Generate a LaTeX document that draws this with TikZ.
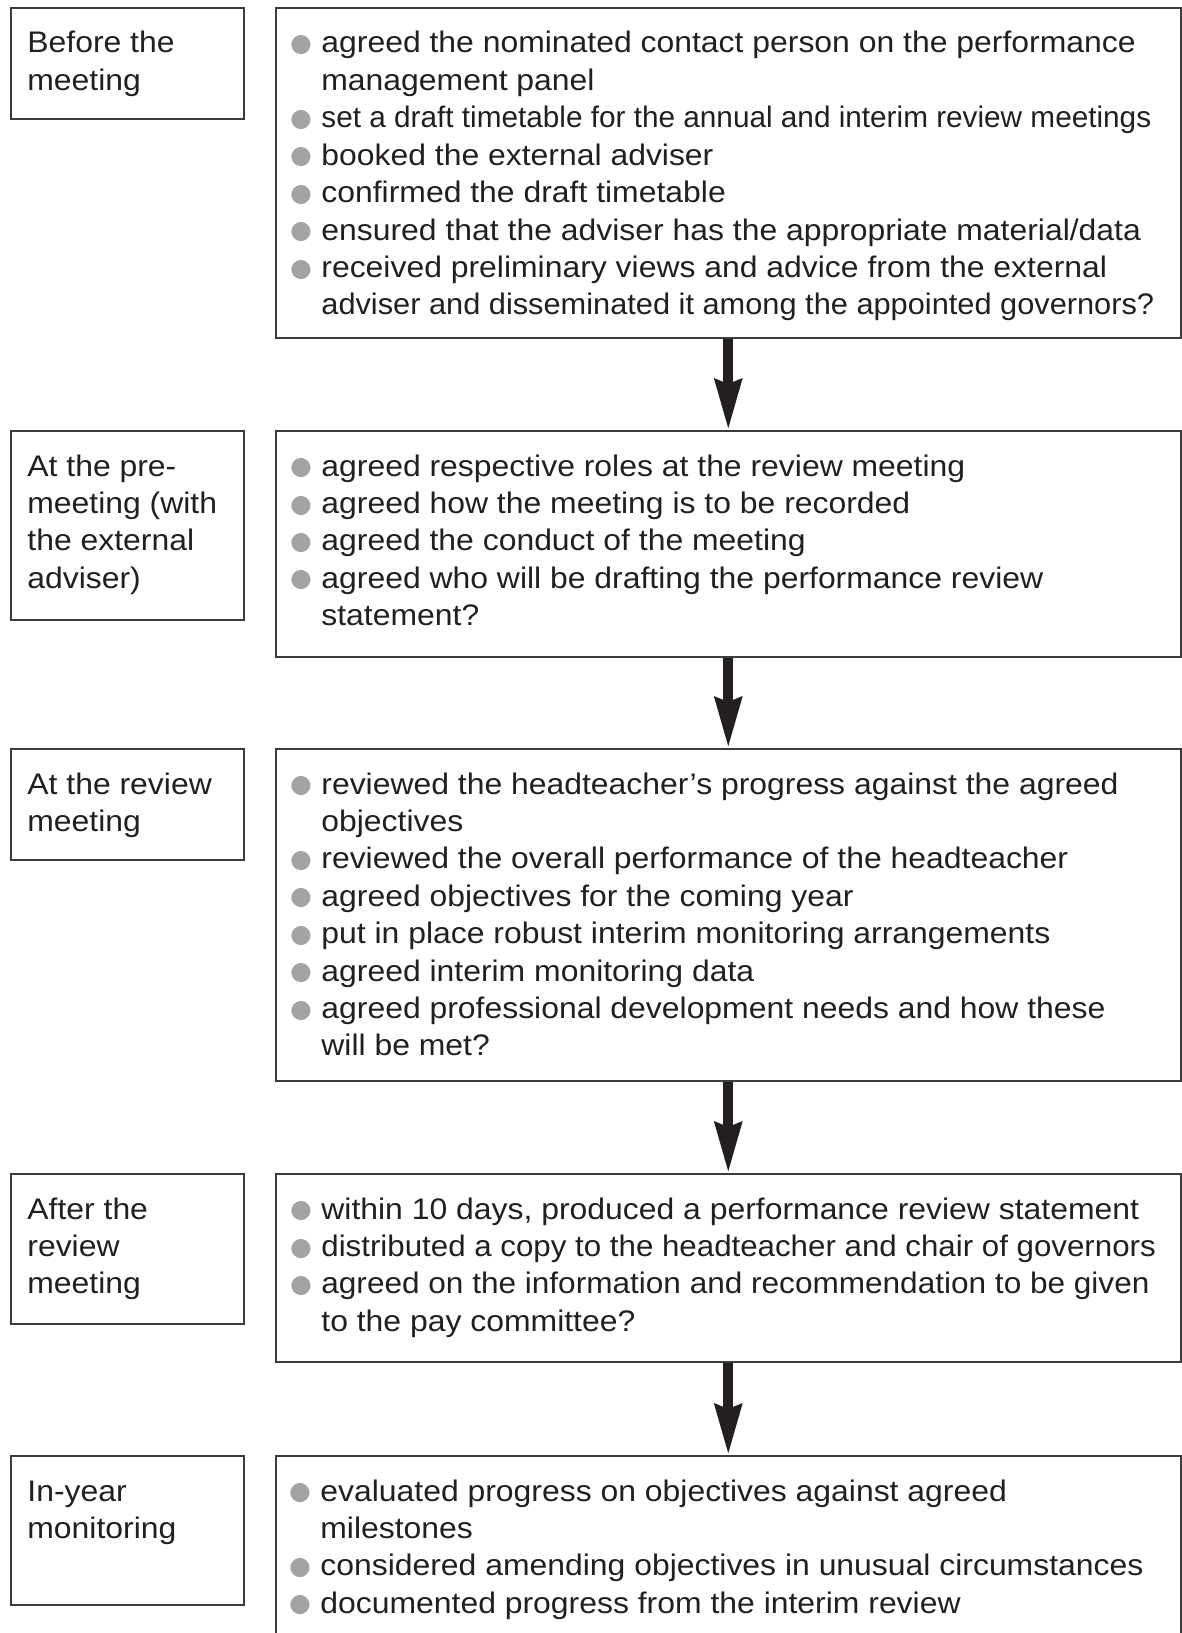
\documentclass[tikz,border=0pt]{standalone}
\usepackage{fontspec}
\usepackage{graphicx}
\setmainfont[FakeStretch=1.073]{Liberation Sans}
\newfontfamily\symf{DejaVu Sans}
\usetikzlibrary{arrows.meta}
\definecolor{bulgray}{HTML}{A3A3A6}
\definecolor{txtc}{HTML}{231F20}
\definecolor{edge}{HTML}{3C3C3C}
\newcommand\bul{\makebox[14.5pt][l]{\hspace{-1.2pt}\raisebox{\dimexpr3.86pt-0.5\height+0.5\depth\relax}{\textcolor{bulgray}{\fontsize{12.5}{12.5}\symf ●}}}}
\newcommand\sq[2]{\scalebox{#1}[1]{#2}}
\newcommand\lst[1]{\begin{tabular}[t]{@{}l@{}l@{}}#1\end{tabular}}
\newcommand\lbl[1]{\begin{tabular}[t]{@{}l@{}}#1\end{tabular}}
\begin{document}
\begin{tikzpicture}[x=0.5pt,y=-0.5pt,
  lbox/.style={draw=edge, line width=0.75pt, anchor=north west, inner sep=0, minimum width=116.5pt},
  rbox/.style={draw=edge, line width=0.75pt, anchor=north west, inner sep=0, minimum width=452.5pt},
  txt/.style={anchor=base west, inner sep=0, text=txtc, font=\fontsize{14.87}{18.7}\selectfont},
  flow/.style={line width=5pt, draw=txtc, -{Stealth[length=25pt,width=13pt,inset=2pt]}}]
\useasboundingbox (0,0) rectangle (1182,1633);
% boxes
\node[lbox, minimum height=55.5pt] (l1) at (10,7) {};
\node[rbox, minimum height=165pt] (r1) at (275,7) {};
\node[lbox, minimum height=94.5pt] (l2) at (10,430) {};
\node[rbox, minimum height=113pt] (r2) at (275,430) {};
\node[lbox, minimum height=55.5pt] (l3) at (10,748) {};
\node[rbox, minimum height=166pt] (r3) at (275,748) {};
\node[lbox, minimum height=75pt] (l4) at (10,1173) {};
\node[rbox, minimum height=94pt] (r4) at (275,1173) {};
\node[lbox, minimum height=74.5pt] (l5) at (10,1455) {};
\node[rbox, minimum height=100pt] (r5) at (275,1455) {};
% left labels
\node[txt] (t1) at (27,53) {\lbl{Before the\\meeting}};
\node[txt] (t2) at (27,476) {\lbl{At the pre-\\meeting (with\\the external\\adviser)}};
\node[txt] (t3) at (27,794) {\lbl{At the review\\meeting}};
\node[txt] (t4) at (27,1219) {\lbl{After the\\review\\meeting}};
\node[txt] (t5) at (27,1501) {\lbl{In-year\\monitoring}};
% right lists
\node[txt] (s1) at (292,53) {\lst{%
\bul & agreed the nominated contact person on the performance\\
 & management panel\\
\bul & \sq{0.932}{set a draft timetable for the annual and interim review meetings}\\
\bul & booked the external adviser\\
\bul & confirmed the draft timetable\\
\bul & ensured that the adviser has the appropriate material/data\\
\bul & received preliminary views and advice from the external\\
 & \sq{0.964}{adviser and disseminated it among the appointed governors?}}};
\node[txt] (s2) at (292,476) {\lst{%
\bul & agreed respective roles at the review meeting\\
\bul & agreed how the meeting is to be recorded\\
\bul & agreed the conduct of the meeting\\
\bul & agreed who will be drafting the performance review\\
 & statement?}};
\node[txt] (s3) at (292,794) {\lst{%
\bul & reviewed the headteacher’s progress against the agreed\\
 & objectives\\
\bul & reviewed the overall performance of the headteacher\\
\bul & agreed objectives for the coming year\\
\bul & put in place robust interim monitoring arrangements\\
\bul & agreed interim monitoring data\\
\bul & agreed professional development needs and how these\\
 & will be met?}};
\node[txt] (s4) at (292,1219) {\lst{%
\bul & within 10 days, produced a performance review statement\\
\bul & \sq{0.98}{distributed a copy to the headteacher and chair of governors}\\
\bul & \sq{0.989}{agreed on the information and recommendation to be given}\\
 & to the pay committee?}};
\node[txt] (s5) at (291,1501) {\lst{%
\bul & evaluated progress on objectives against agreed\\
 & milestones\\
\bul & considered amending objectives in unusual circumstances\\
\bul & documented progress from the interim review}};
% arrows
\draw[flow] (r1.south) -- (r2.north);
\draw[flow] (r2.south) -- (r3.north);
\draw[flow] (r3.south) -- (r4.north);
\draw[flow] (r4.south) -- (r5.north);
\end{tikzpicture}
\end{document}
